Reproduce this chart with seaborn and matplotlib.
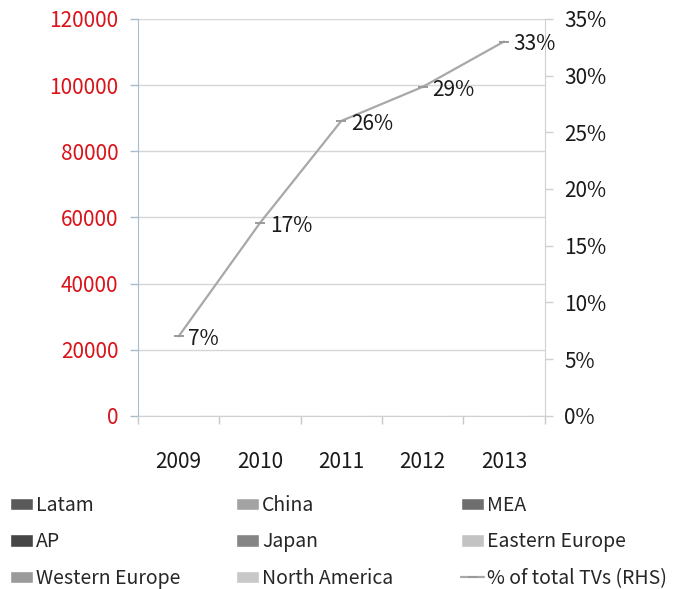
import numpy as np
import pandas as pd
import matplotlib
matplotlib.use("Agg")
import matplotlib.pyplot as plt
import seaborn as sns

# data
years = ["2009", "2010", "2011", "2012", "2013"]
share_pct = [7, 17, 26, 29, 33]  # % of total TVs (RHS)

# regional series are not visible in the chart (zero height bars)
regions = ["Latam", "AP", "Western Europe", "China", "Japan",
           "North America", "MEA", "Eastern Europe"]
region_colors = ["#5a5a5a", "#464646", "#9a9a9a", "#a3a3a3", "#858585",
                 "#c8c8c8", "#6e6e6e", "#c3c3c3"]
latam = [0, 0, 0, 0, 0]
ap = [0, 0, 0, 0, 0]
western_europe = [0, 0, 0, 0, 0]
china = [0, 0, 0, 0, 0]
japan = [0, 0, 0, 0, 0]
north_america = [0, 0, 0, 0, 0]
mea = [0, 0, 0, 0, 0]
eastern_europe = [0, 0, 0, 0, 0]
region_values = [latam, ap, western_europe, china, japan,
                 north_america, mea, eastern_europe]

sns.set_style("white")
plt.rcParams['font.family'] = ['Noto Sans CJK KR', 'DejaVu Sans']

fig = plt.figure(figsize=(6.86, 5.89), dpi=100)
ax = fig.add_axes([0.201, 0.294, 0.593, 0.674])
ax2 = ax.twinx()

x = np.arange(len(years))

# stacked bars (all zero)
bottom = np.zeros(len(years))
for name, vals, col in zip(regions, region_values, region_colors):
    ax.bar(x, vals, bottom=bottom, width=0.5, color=col, label=name)
    bottom = bottom + np.array(vals)

df = pd.DataFrame({"x": x, "pct": share_pct})
sns.lineplot(data=df, x="x", y="pct", ax=ax2, color="#a8a8a8", linewidth=1.6,
             marker="_", markersize=7, markeredgewidth=1.4,
             markeredgecolor="#9a9a9a",
             label="% of total TVs (RHS)", legend=False)
for xi, p in zip(x, share_pct):
    ax2.annotate(f"{p}%", (xi, p), xytext=(7, -2), textcoords="offset points",
                 ha="left", va="center", fontsize=15, color="#1a1a1a")

# left axis
ax.set_ylim(0, 120000)
ax.set_yticks(range(0, 120001, 20000))
ax.set_xlim(-0.5, len(years) - 0.5)
ax.set_xticks(x)
ax.set_xticklabels(years)
ax.set_xticks(np.arange(-0.5, len(years), 1.0), minor=True)
ax.tick_params(axis="x", which="major", length=0, pad=25, labelsize=15,
               labelcolor="#1a1a1a")
ax.tick_params(axis="x", which="minor", length=6, width=1, color="#c8c8c8",
               direction="out", bottom=True)
ax.tick_params(axis="y", length=6, width=1, color="#a9bccb", direction="out",
               pad=8, labelsize=15, labelcolor="#d9141b", left=True)
ax.grid(axis="y", color="#d6d6d6", linewidth=1)
ax.grid(axis="x", visible=False)
for s in ["top", "right"]:
    ax.spines[s].set_visible(False)
ax.spines["left"].set_color("#a9bccb")
ax.spines["bottom"].set_color("#d0d0d0")
ax.set_xlabel("")
ax.set_ylabel("")

# right axis
ax2.set_ylim(0, 35)
ax2.set_yticks(range(0, 36, 5))
ax2.set_yticklabels([f"{v}%" for v in range(0, 36, 5)])
ax2.tick_params(axis="y", length=6, width=1, color="#d0d0d0", direction="out",
                pad=8, labelsize=15, labelcolor="#1a1a1a", right=True)
for s in ["top", "left", "bottom"]:
    ax2.spines[s].set_visible(False)
ax2.spines["right"].set_color("#d0d0d0")
ax2.set_ylabel("")
ax2.set_xlabel("")
ax2.grid(False)

# legend: three columns placed side by side
h1, l1 = ax.get_legend_handles_labels()
h2, l2 = ax2.get_legend_handles_labels()
handles = h1 + h2
labels = l1 + l2
col_x = [10 / 686, 236 / 686, 461 / 686]
for i, cx in enumerate(col_x):
    fig.legend(handles[3 * i:3 * i + 3], labels[3 * i:3 * i + 3],
               loc="upper left", bbox_to_anchor=(cx, 0.16),
               frameon=False, fontsize=14, handlelength=1.2, handleheight=0.6,
               handletextpad=0.15, labelspacing=0.8, borderaxespad=0,
               borderpad=0)

fig.savefig("out.png", dpi=100)
